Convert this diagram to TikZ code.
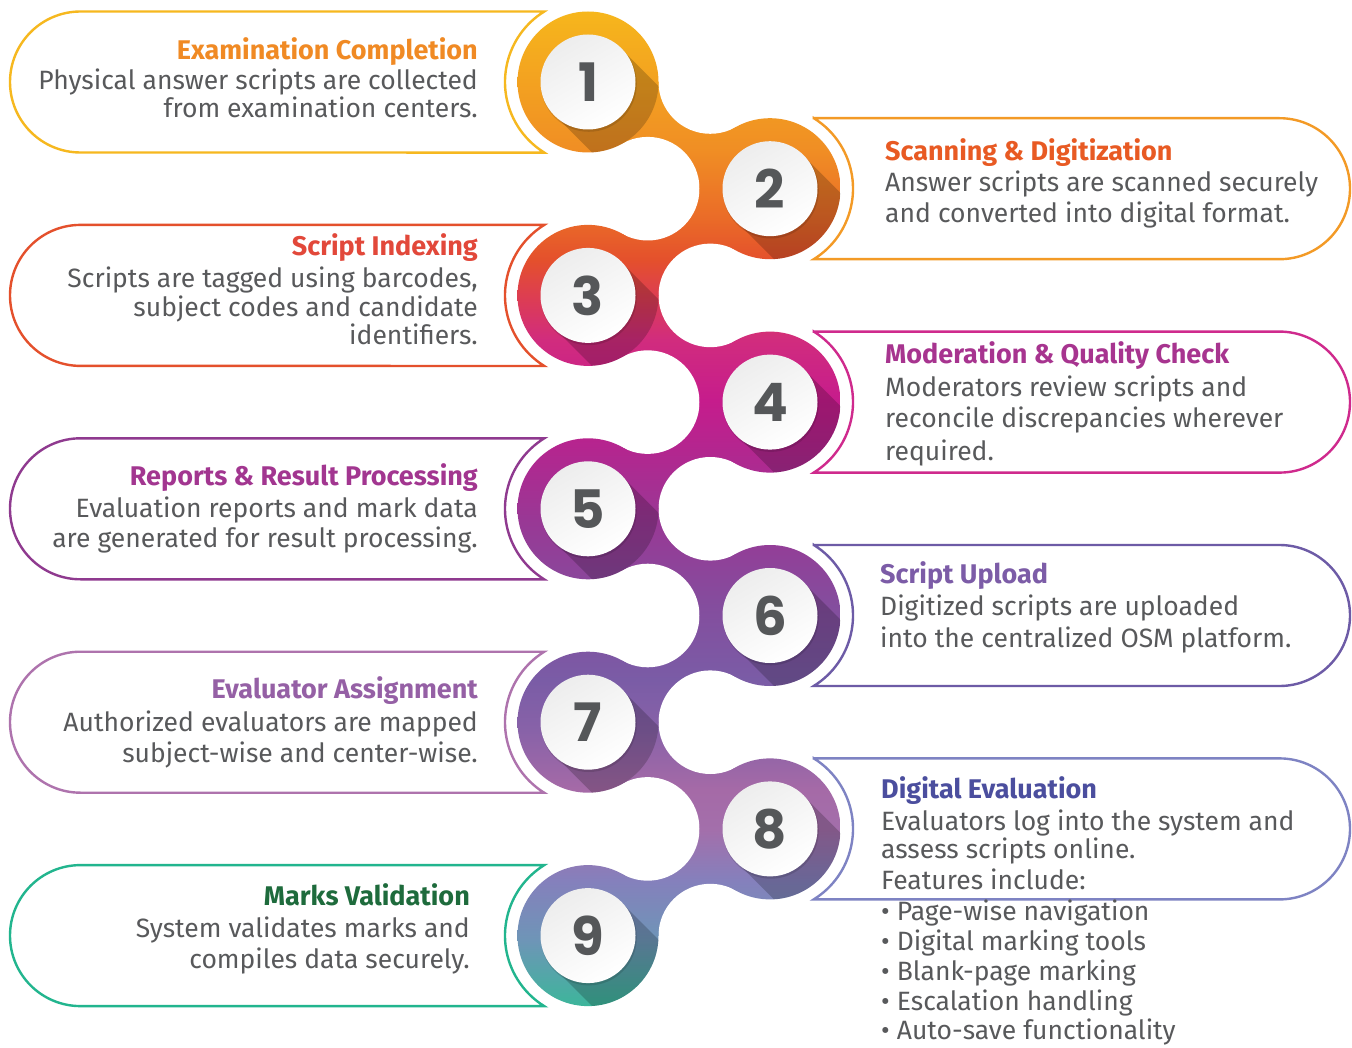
\documentclass[tikz,border=0pt]{standalone}
\usepackage{fontspec}
\setmainfont{Fira Sans}
\newfontfamily\numfont{Poppins}
\usetikzlibrary{calc}
\definecolor{bodygray}{HTML}{58595B}
\definecolor{numgray}{HTML}{555759}
\definecolor{oa}{HTML}{F6B81F}\definecolor{ob}{HTML}{F39A26}\definecolor{oc}{HTML}{E4502C}
\definecolor{od}{HTML}{CF2A8D}\definecolor{oe}{HTML}{8F3A8F}\definecolor{of}{HTML}{6D5BA6}
\definecolor{og}{HTML}{AE73AD}\definecolor{oh}{HTML}{7E83C3}\definecolor{oi}{HTML}{22B58E}
\definecolor{ta}{HTML}{F08A24}\definecolor{tb}{HTML}{E85A23}\definecolor{tc}{HTML}{E2483A}
\definecolor{td}{HTML}{A7348F}\definecolor{te}{HTML}{A23690}\definecolor{tf}{HTML}{7C5CA7}
\definecolor{tg}{HTML}{9560A5}\definecolor{th}{HTML}{4B4E9E}\definecolor{ti}{HTML}{1E6B3C}
% gradient stops (image y -> s = 75 - 50*y/1048)
\definecolor{g00}{HTML}{F6B61C}\definecolor{g01}{HTML}{F4A81F}\definecolor{g02}{HTML}{F08E24}
\definecolor{g03}{HTML}{EA6A28}\definecolor{g04}{HTML}{E4502C}\definecolor{g05}{HTML}{DC3C55}
\definecolor{g06}{HTML}{D12C7E}\definecolor{g07}{HTML}{C61C8C}\definecolor{g08}{HTML}{B3268F}
\definecolor{g09}{HTML}{993895}\definecolor{g10}{HTML}{854C9D}\definecolor{g11}{HTML}{7A5CA6}
\definecolor{g12}{HTML}{8862A8}\definecolor{g13}{HTML}{A56AA7}\definecolor{g14}{HTML}{A36FAB}
\definecolor{g15}{HTML}{8580BC}\definecolor{g16}{HTML}{6E95B7}\definecolor{g17}{HTML}{3DB59B}
\definecolor{g18}{HTML}{30B898}
\pgfdeclareverticalshading{blobgrad}{100bp}{%
color(0bp)=(g18); color(25bp)=(g18); color(27.05bp)=(g17); color(30.15bp)=(g16);
color(33.02bp)=(g15); color(35.40bp)=(g14); color(37.31bp)=(g13); color(40.17bp)=(g12);
color(42.56bp)=(g11); color(46.37bp)=(g10); color(50.19bp)=(g09); color(53.53bp)=(g08);
color(55.92bp)=(g07); color(58.78bp)=(g06); color(60.69bp)=(g05); color(62.60bp)=(g04);
color(64.50bp)=(g03); color(67.84bp)=(g02); color(72.14bp)=(g01); color(74.43bp)=(g00);
color(100bp)=(g00)}
\tikzset{
  cardline/.style={line width=2.4pt, line join=miter},
  bodytxt/.style={inner sep=0pt, text=bodygray, font=\fontsize{26.5}{30}\selectfont},
  titletxt/.style={inner sep=0pt, font=\bfseries\fontsize{27}{30}\selectfont},
  numtxt/.style={inner sep=0pt, text=numgray, font=\numfont\bfseries\fontsize{53}{53}\selectfont},
}
\newcommand\leftcard[2]{%
  \draw[cardline,#2] (80.5,{-(#1-70.5)}) -- (544.26,{-(#1-70.5)})
    arc[start angle=121.8,end angle=238.2,radius=83] -- (80.5,{-(#1+70.5)})
    arc[start angle=270,end angle=90,radius=70.5] -- cycle;}
\newcommand\rightcard[2]{%
  \draw[cardline,#2] (813.74,{-(#1-70.5)}) -- (1279.5,{-(#1-70.5)})
    arc[start angle=90,end angle=-90,radius=70.5] -- (813.74,{-(#1+70.5)})
    arc[start angle=-58.2,end angle=58.2,radius=83] -- cycle;}
\begin{document}
\begin{tikzpicture}[x=1pt,y=1pt]
\useasboundingbox (0,-1048) rectangle (1352,0);
\fill[white] (0,-1048) rectangle (1352,0);
% cards
\leftcard{82}{oa}
\rightcard{188.7}{ob}
\leftcard{295.4}{oc}
\rightcard{402.1}{od}
\leftcard{508.8}{oe}
\rightcard{615.5}{of}
\leftcard{722.2}{og}
\rightcard{828.9}{oh}
\leftcard{935.6}{oi}
% centres and holes
\foreach \i in {1,...,9}{
  \pgfmathsetmacro\cy{-(82+(\i-1)*106.7)}
  \pgfmathsetmacro\cx{588+182*mod(\i+1,2)}
  \pgfmathsetmacro\hx{710.3-62.6*mod(\i+1,2)}
  \coordinate (C\i) at (\cx,\cy);
  \coordinate (H\i) at (\hx,\cy);
}
% necks
\begin{scope}
  \clip (C1)--(H1)--(C2)--(H2)--cycle (C2)--(H2)--(C3)--(H3)--cycle
        (C3)--(H3)--(C4)--(H4)--cycle (C4)--(H4)--(C5)--(H5)--cycle
        (C5)--(H5)--(C6)--(H6)--cycle (C6)--(H6)--(C7)--(H7)--cycle
        (C7)--(H7)--(C8)--(H8)--cycle (C8)--(H8)--(C9)--(H9)--cycle;
  \shade[shading=blobgrad] (0,-1048) rectangle (1352,0);
\end{scope}
\foreach \i in {1,...,9}{\fill[white] (H\i) circle[radius=51.8];}
% coloured circles
\begin{scope}
  \clip (C1) circle[radius=70.5] (C2) circle[radius=70.5] (C3) circle[radius=70.5]
        (C4) circle[radius=70.5] (C5) circle[radius=70.5] (C6) circle[radius=70.5]
        (C7) circle[radius=70.5] (C8) circle[radius=70.5] (C9) circle[radius=70.5];
  \shade[shading=blobgrad] (0,-1048) rectangle (1352,0);
\end{scope}
% long shadows, each clipped to its own circle
\foreach \i in {1,...,9}{
  \begin{scope}
    \clip (C\i) circle[radius=70.5];
    \fill[black,opacity=0.2] ($(C\i)+(33.2,33.2)$) -- ++(120,-120) -- ($(C\i)+(-33.2,-33.2)+(120,-120)$) -- ($(C\i)+(-33.2,-33.2)$) -- cycle;
  \end{scope}
}
% white discs with numbers
\foreach \i in {1,...,9}{
  \fill[black,opacity=0.12] ($(C\i)+(0.8,-1.8)$) circle[radius=48];
  \shade[top color=gray!14, bottom color=white, shading angle=30] (C\i) circle[radius=47.5];
  \node[numtxt] (n\i) at (C\i) {\i};
}
% texts card 1
\node[titletxt,text=ta,anchor=base east] (t1) at (478,-60) {Examination Completion};
\node[bodytxt,anchor=base east] (b1a) at (478,-90) {Physical answer scripts are collected};
\node[bodytxt,anchor=base east] (b1b) at (478,-118) {from examination centers.};
% card 2
\node[titletxt,text=tb,anchor=base west] (t2) at (885,-161) {Scanning \& Digitization};
\node[bodytxt,anchor=base west] (b2a) at (885,-192) {Answer scripts are scanned securely};
\node[bodytxt,anchor=base west] (b2b) at (885,-223) {and converted into digital format.};
% card 3
\node[titletxt,text=tc,anchor=base east] (t3) at (478,-256) {Script Indexing};
\node[bodytxt,anchor=base east] (b3a) at (478,-288) {Scripts are tagged using barcodes,};
\node[bodytxt,anchor=base east] (b3b) at (478,-317) {subject codes and candidate};
\node[bodytxt,anchor=base east] (b3c) at (478,-345) {identifiers.};
% card 4
\node[titletxt,text=td,anchor=base west] (t4) at (885,-364) {Moderation \& Quality Check};
\node[bodytxt,anchor=base west] (b4a) at (885,-397) {Moderators review scripts and};
\node[bodytxt,anchor=base west] (b4b) at (885,-428) {reconcile discrepancies wherever};
\node[bodytxt,anchor=base west] (b4c) at (885,-460) {required.};
% card 5
\node[titletxt,text=te,anchor=base east] (t5) at (478,-485) {Reports \& Result Processing};
\node[bodytxt,anchor=base east] (b5a) at (478,-517) {Evaluation reports and mark data};
\node[bodytxt,anchor=base east] (b5b) at (478,-547) {are generated for result processing.};
% card 6
\node[titletxt,text=tf,anchor=base west] (t6) at (880,-583) {Script Upload};
\node[bodytxt,anchor=base west] (b6a) at (880,-615) {Digitized scripts are uploaded};
\node[bodytxt,anchor=base west] (b6b) at (880,-647) {into the centralized OSM platform.};
% card 7
\node[titletxt,text=tg,anchor=base east] (t7) at (478,-698) {Evaluator Assignment};
\node[bodytxt,anchor=base east] (b7a) at (478,-731) {Authorized evaluators are mapped};
\node[bodytxt,anchor=base east] (b7b) at (478,-762) {subject-wise and center-wise.};
% card 8
\node[titletxt,text=th,anchor=base west] (t8) at (881,-798) {Digital Evaluation};
\node[bodytxt,anchor=base west] (b8a) at (881,-830) {Evaluators log into the system and};
\node[bodytxt,anchor=base west] (b8b) at (881,-858) {assess scripts online.};
\node[bodytxt,anchor=base west] (b8c) at (881,-889) {Features include:};
\node[bodytxt,anchor=base west] (b8d) at (881,-920) {• Page-wise navigation};
\node[bodytxt,anchor=base west] (b8e) at (881,-950) {• Digital marking tools};
\node[bodytxt,anchor=base west] (b8f) at (881,-980) {• Blank-page marking};
\node[bodytxt,anchor=base west] (b8g) at (881,-1010) {• Escalation handling};
\node[bodytxt,anchor=base west] (b8h) at (881,-1039) {• Auto-save functionality};
% card 9
\node[titletxt,text=ti,anchor=base east] (t9) at (470,-905) {Marks Validation};
\node[bodytxt,anchor=base east] (b9a) at (470,-937) {System validates marks and};
\node[bodytxt,anchor=base east] (b9b) at (470,-968) {compiles data securely.};
\end{tikzpicture}
\end{document}
